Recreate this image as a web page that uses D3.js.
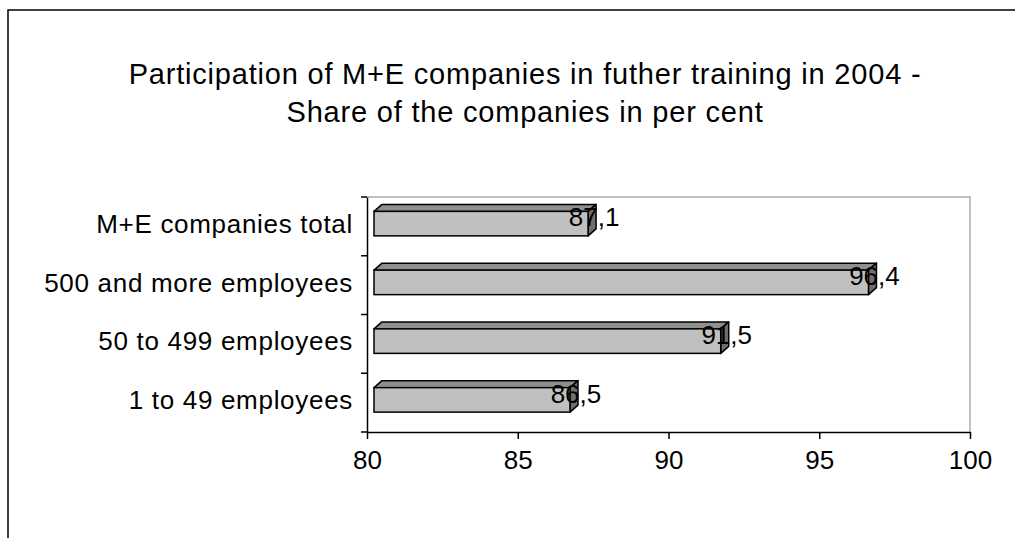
<!DOCTYPE html>
<html>
<head>
<meta charset="utf-8">
<script src="https://cdn.jsdelivr.net/npm/d3@7"></script>
<style>
  body { margin: 0; background: #fff; }
  svg text { font-family: "Liberation Sans", Arial, sans-serif; fill: #000; }
</style>
</head>
<body>
<svg id="chart"></svg>
<script>

// DATA
const categories = ["M+E companies total", "500 and more employees", "50 to 499 employees", "1 to 49 employees"];
const shares = [87.1, 96.4, 91.5, 86.5];
const labels = ["87,1", "96,4", "91,5", "86,5"];
const xTicks = [80, 85, 90, 95, 100];
const titleLines = ["Participation of M+E companies in futher training in 2004 -", "Share of the companies in per cent"];

const width = 1015, height = 538;
const margin = { top: 197, right: 45, bottom: 106, left: 367 };
const depth = 8; // 3d offset of the bars

const svg = d3.select("#chart")
  .attr("width", width)
  .attr("height", height);

// OUTER FRAME (only top and left visible)
svg.append("path")
  .attr("d", `M8,${height} V10 H${width}`)
  .attr("fill", "none")
  .attr("stroke", "#000")
  .attr("stroke-width", 1.5);

// + SCALES
const xScale = d3.scaleLinear()
  .domain([80, 100])
  .range([margin.left, width - margin.right]);

const yScale = d3.scaleBand()
  .domain(categories)
  .range([margin.top, height - margin.bottom]);

// TITLE
svg.selectAll(".title")
  .data(titleLines)
  .join("text")
  .attr("class", "title")
  .attr("x", 525)
  .attr("y", (d, i) => 84 + i * 38)
  .attr("text-anchor", "middle")
  .attr("font-size", 29)
  .attr("letter-spacing", 0.8)
  .text(d => d);

// PLOT AREA BORDER (grey top + right)
svg.append("path")
  .attr("d", `M${margin.left},${margin.top} H${xScale(100)} V${height - margin.bottom}`)
  .attr("fill", "none")
  .attr("stroke", "#c0c0c0")
  .attr("stroke-width", 2);

// + AXES
const xAxis = svg.append("g")
  .attr("transform", `translate(0, ${height - margin.bottom})`)
  .call(d3.axisBottom(xScale).tickValues(xTicks).tickSize(7).tickPadding(12).tickSizeOuter(0));

xAxis.selectAll("text")
  .attr("font-size", 26)
  .attr("font-family", "Liberation Sans, Arial, sans-serif");

const yAxis = svg.append("g")
  .attr("transform", `translate(${margin.left}, 0)`)
  .call(d3.axisLeft(yScale).tickSize(0).tickPadding(14).tickSizeOuter(0));

yAxis.selectAll("text")
  .attr("font-size", 26)
  .attr("letter-spacing", 0.7)
  .attr("font-family", "Liberation Sans, Arial, sans-serif")
  .attr("dy", "0.25em");

// y ticks sit between the categories
const bounds = categories.map(c => yScale(c)).concat([height - margin.bottom]);
svg.selectAll(".ytick")
  .data(bounds)
  .join("line")
  .attr("class", "ytick")
  .attr("x1", margin.left - 6)
  .attr("x2", margin.left)
  .attr("y1", d => d)
  .attr("y2", d => d)
  .attr("stroke", "#000")
  .attr("stroke-width", 1.5);

svg.selectAll(".domain, .tick line")
  .attr("stroke", "#000")
  .attr("stroke-width", 1.5);

// + BARS (3d look)
const bars = categories.map((c, i) => ({ cat: c, value: shares[i], label: labels[i] }));

const barG = svg.selectAll(".bar")
  .data(bars)
  .join("g")
  .attr("class", "bar");

const geo = d => {
  const c = yScale(d.cat) + yScale.bandwidth() / 2;
  return {
    xl: xScale(80) + 7,
    xr: xScale(d.value) + 7,
    yt: c - 15,
    yb: c + 9.5,
    c: c
  };
};

// top face
barG.append("path")
  .attr("d", d => {
    const g = geo(d);
    return `M${g.xl},${g.yt} L${g.xl + depth},${g.yt - 7} L${g.xr + depth},${g.yt - 7} L${g.xr},${g.yt} Z`;
  })
  .attr("fill", "#8f8f8f")
  .attr("stroke", "#000")
  .attr("stroke-width", 1.5)
  .attr("stroke-linejoin", "round");

// side face
barG.append("path")
  .attr("d", d => {
    const g = geo(d);
    return `M${g.xr},${g.yt} L${g.xr + depth},${g.yt - 7} L${g.xr + depth},${g.yb - 7} L${g.xr},${g.yb} Z`;
  })
  .attr("fill", "#6f6f6f")
  .attr("stroke", "#000")
  .attr("stroke-width", 1.5)
  .attr("stroke-linejoin", "round");

// front face
barG.append("rect")
  .attr("x", d => geo(d).xl)
  .attr("y", d => geo(d).yt)
  .attr("width", d => geo(d).xr - geo(d).xl)
  .attr("height", d => geo(d).yb - geo(d).yt)
  .attr("fill", "#c0c0c0")
  .attr("stroke", "#000")
  .attr("stroke-width", 1.5);

// VALUE LABELS
barG.append("text")
  .attr("x", d => xScale(d.value) + 13)
  .attr("y", d => geo(d).c)
  .attr("text-anchor", "middle")
  .attr("font-size", 26)
  .text(d => d.label);

</script>
</body>
</html>
